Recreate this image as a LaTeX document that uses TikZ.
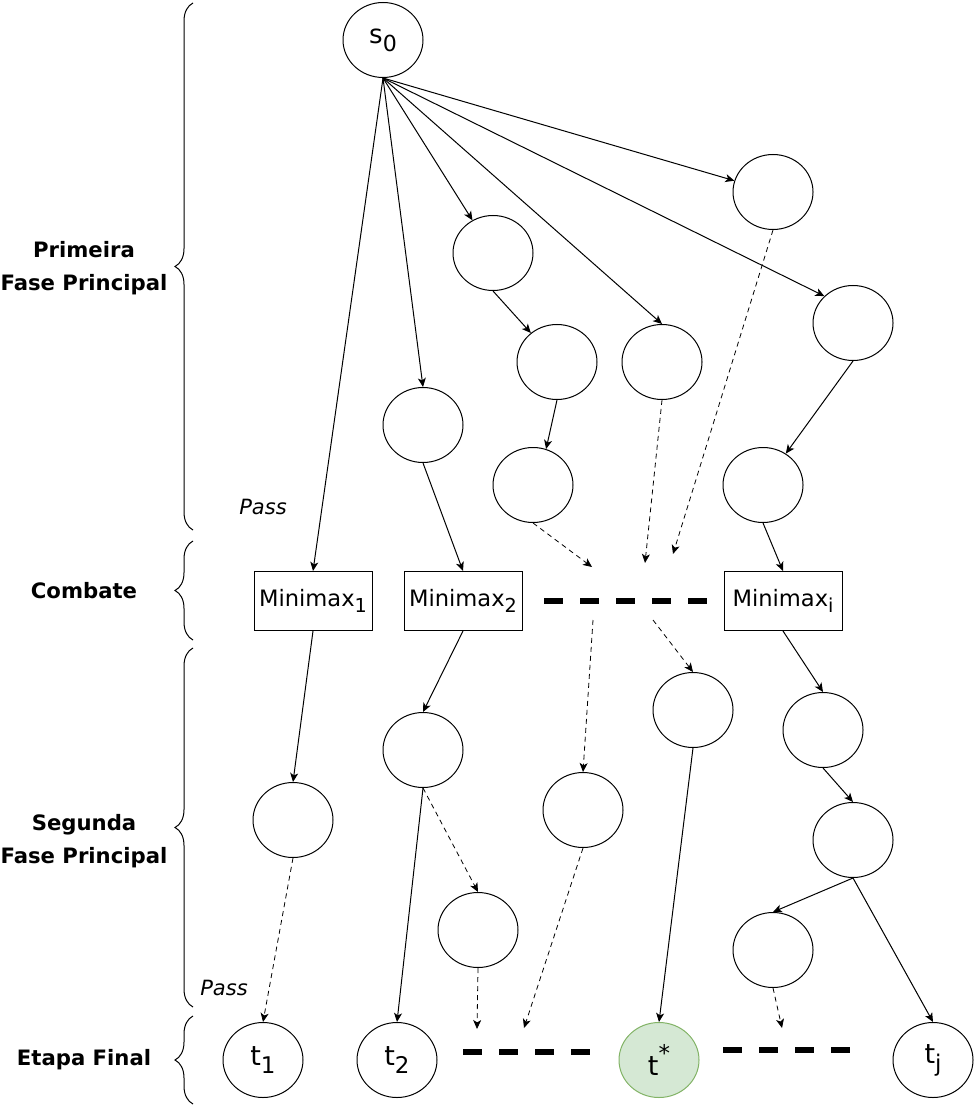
\documentclass[tikz,border=0pt]{standalone}
\usepackage{fontspec}
\setmainfont{DejaVu Sans}
\usetikzlibrary{shapes.geometric,arrows.meta,decorations.pathreplacing}
\definecolor{bestfill}{HTML}{D5E8D4}
\definecolor{bestdraw}{HTML}{82B366}
\newcommand{\lowix}[1]{\raisebox{-0.55ex}{\scalebox{0.85}{#1}}}

\begin{document}
\begin{tikzpicture}[->,>={Stealth[length=4.5pt,width=4pt,inset=1.2pt]},x=0.5pt,y=-0.5pt,line width=0.5pt]
	\tikzstyle{state} = [ellipse,draw,inner sep=0pt,minimum width=40pt,minimum height=37.5pt,font=\fontsize{13.5}{15}\selectfont]
	\tikzstyle{mmbox} = [rectangle,draw,inner sep=0pt,minimum width=59pt,minimum height=29.5pt,font=\fontsize{11.3}{13}\selectfont]
	\tikzstyle{phase} = [align=center,font=\fontsize{10.6}{16.5}\selectfont\bfseries]
	\tikzstyle{pass} = [font=\fontsize{10.5}{12}\selectfont\itshape]
	\tikzstyle{etc} = [-,line width=3pt,dash pattern=on 9.5pt off 8.5pt]
	\tikzstyle{bracket} = [-,decorate,decoration={brace,amplitude=9pt}]
	\tikzstyle{maybe} = [dash pattern=on 2.5pt off 2pt,line width=0.4pt]

	\useasboundingbox (0,0) rectangle (974,1106);

	\node[phase] (ph1) at (84,268) {Primeira\\Fase Principal};
	\node[phase] (ph2) at (84,591) {Combate};
	\node[phase] (ph3) at (84,841) {Segunda\\Fase Principal};
	\node[phase] (ph4) at (84,1060) {Etapa Final};
	\draw[bracket] (193,530) -- (193,3);
	\draw[bracket] (193,640) -- (193,541);
	\draw[bracket] (193,1007) -- (193,648);
	\draw[bracket] (193,1104) -- (193,1016);

	\node[state,font=\fontsize{13}{15}\selectfont] (s0) at (383,40) {s\lowix{0}};
	\node[state] (A) at (773,192) {};
	\node[state] (B) at (493,253) {};
	\node[state] (C) at (557,362) {};
	\node[state] (D) at (662,362) {};
	\node[state] (E) at (853,323) {};
	\node[state] (F) at (423,425) {};
	\node[state] (G) at (533,485) {};
	\node[state] (H) at (763,485) {};
	\node[pass] (pass1) at (263,507) {Pass};

	\node[mmbox] (mm1) at (313,601) {Minimax\lowix{1}};
	\node[mmbox] (mm2) at (463,601) {Minimax\lowix{2}};
	\node[mmbox] (mmi) at (783,601) {Minimax\lowix{i}};
	\draw[etc] (544,601) -- (707,601);
	\coordinate (c1) at (673,554);
	\coordinate (c2) at (645,563);
	\coordinate (c3) at (592,567);
	\coordinate (c4) at (593,620);
	\coordinate (c5) at (653,620);

	\node[state] (I) at (293,820) {};
	\node[state] (J) at (423,750) {};
	\node[state] (K) at (478,930) {};
	\node[state] (L) at (583,810) {};
	\node[state] (M) at (693,710) {};
	\node[state] (N) at (823,730) {};
	\node[state] (O) at (853,840) {};
	\node[state] (P) at (773,950) {};
	\node[pass] (pass2) at (224,988) {Pass};

	\node[state] (t1) at (263,1060) {t\lowix{1}};
	\node[state] (t2) at (397,1060) {t\lowix{2}};
	\node[state,fill=bestfill,draw=bestdraw] (ts) at (659,1060) {t\raisebox{0.9ex}{\scalebox{0.85}{*}}};
	\node[state] (tj) at (933,1060) {t\lowix{j}};
	\draw[etc] (463,1052) -- (590,1052);
	\draw[etc] (723,1050) -- (850,1050);
	\coordinate (c6) at (477,1029);
	\coordinate (c7) at (524,1028);
	\coordinate (c8) at (782,1028);

	\path (s0.south) edge (A);
	\path (s0.south) edge (B);
	\path (s0.south) edge (D.north);
	\path (s0.south) edge (E.north west);
	\path (s0.south) edge (F.north);
	\path (s0.south) edge (mm1.north);
	\path (B.south) edge (C);
	\path (C.south) edge (G.70);
	\path (E.south) edge (H);
	\path (F.south) edge (mm2.north);
	\path (H.south) edge (mmi.north);
	\path (A.south) edge[maybe] (c1);
	\path (D.south) edge[maybe] (c2);
	\path (G.south) edge[maybe] (c3);

	\path (mm1.south) edge (I.north);
	\path (mm2.south) edge (J.north);
	\path (mmi.south) edge (N.north);
	\path (c4) edge[maybe] (L.north);
	\path (c5) edge[maybe] (M.north);
	\path (I.south) edge[maybe] (t1.north);
	\path (J.south) edge (t2.north);
	\path (J.south) edge[maybe] (K.north);
	\path (K.south) edge[maybe] (c6);
	\path (L.south) edge[maybe] (c7);
	\path (M.south) edge (ts.north);
	\path (N.south) edge (O.north);
	\path (O.south) edge (P.north);
	\path (O.south) edge (tj.north);
	\path (P.south) edge[maybe] (c8);
\end{tikzpicture}
\end{document}
